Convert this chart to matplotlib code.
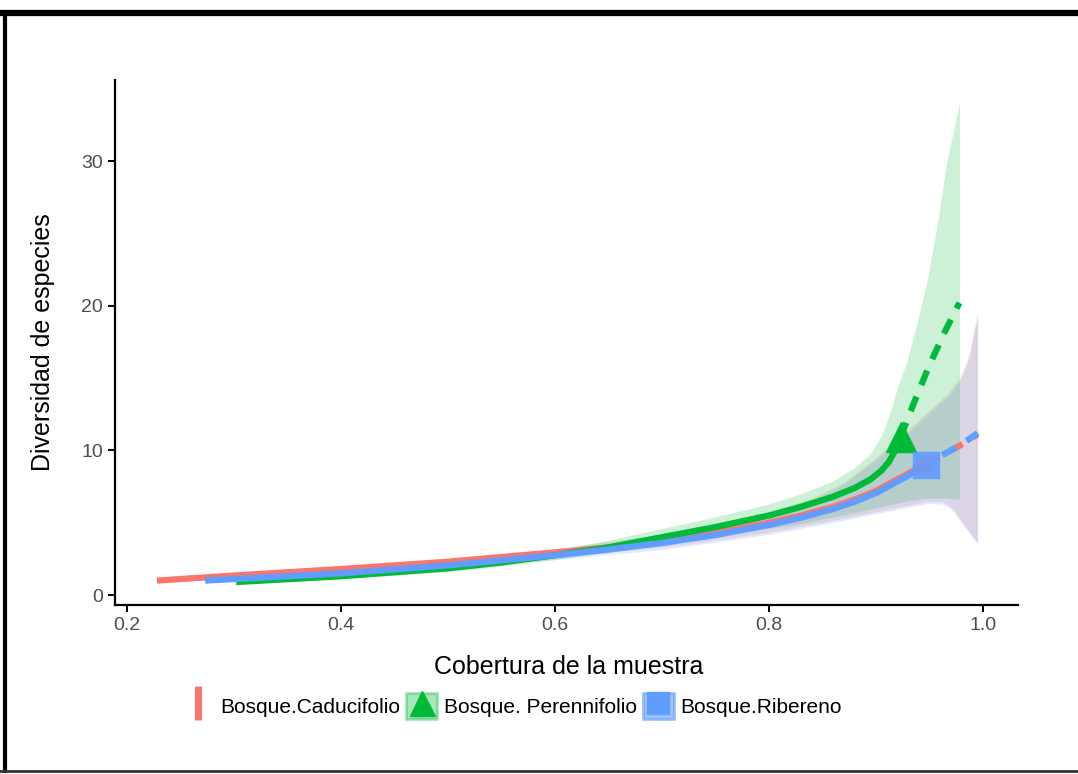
import numpy as np
import matplotlib.pyplot as plt
from matplotlib.lines import Line2D
from matplotlib.patches import Patch

plt.rcParams['font.family'] = ['Liberation Sans', 'DejaVu Sans']

# colours (ggplot default hues)
red = '#F8766D'
green = '#00BA38'
blue = '#619CFF'

# Bosque.Caducifolio
cad_x = [0.228, 0.3, 0.4, 0.5, 0.6, 0.65, 0.7, 0.75, 0.8, 0.83, 0.86, 0.88, 0.9, 0.915, 0.93, 0.945]
cad_y = [1.0, 1.35, 1.8, 2.3, 2.95, 3.3, 3.75, 4.3, 5.0, 5.5, 6.1, 6.6, 7.2, 7.8, 8.4, 9.0]
cad_ext_x = [0.945, 0.96, 0.98, 0.995]
cad_ext_y = [9.0, 9.6, 10.4, 11.1]
cad_rib_x = [0.228, 0.4, 0.6, 0.7, 0.75, 0.8, 0.84, 0.869, 0.895, 0.922, 0.95, 0.962,
             0.968, 0.972, 0.978, 0.98, 0.984, 0.988, 0.99, 0.995]
cad_lo = [0.95, 1.65, 2.6, 3.3, 3.8, 4.35, 4.9, 5.3, 5.7, 6.1, 6.5, 6.45,
          6.2, 5.95, 5.3, 5.1, 4.7, 4.3, 4.1, 3.6]
cad_hi = [1.05, 1.95, 3.2, 4.2, 4.8, 5.7, 6.7, 7.75, 9.2, 10.9, 12.8, 13.6,
          14.0, 14.4, 15.0, 15.3, 16.0, 16.9, 17.8, 19.5]

# Bosque.Perennifolio
per_x = [0.302, 0.4, 0.5, 0.55, 0.6, 0.65, 0.7, 0.75, 0.8, 0.83, 0.86, 0.88,
         0.895, 0.905, 0.912, 0.918, 0.923]
per_y = [0.9, 1.3, 1.85, 2.25, 2.75, 3.3, 4.0, 4.7, 5.5, 6.1, 6.8, 7.4,
         8.0, 8.6, 9.2, 10.0, 10.9]
per_ext_x = [0.923, 0.935, 0.95, 0.965, 0.978]
per_ext_y = [10.9, 13.2, 15.9, 18.3, 20.2]
per_rib_x = [0.302, 0.4, 0.5, 0.6, 0.65, 0.7, 0.75, 0.8, 0.83, 0.86, 0.88, 0.895,
             0.905, 0.913, 0.92, 0.929, 0.938, 0.948, 0.957, 0.966, 0.978]
per_lo = [0.85, 1.15, 1.6, 2.45, 2.95, 3.5, 4.0, 4.6, 4.95, 5.4, 5.7, 5.95,
          6.1, 6.25, 6.35, 6.5, 6.6, 6.7, 6.7, 6.7, 6.6]
per_hi = [0.95, 1.45, 2.1, 3.1, 3.8, 4.6, 5.4, 6.3, 7.0, 7.9, 8.8, 9.8,
          11.0, 12.6, 14.3, 16.2, 18.7, 21.8, 25.5, 29.9, 34.0]

# Bosque.Ribereno
rib_x = [0.273, 0.35, 0.4, 0.5, 0.6, 0.65, 0.7, 0.75, 0.8, 0.83, 0.86, 0.88, 0.9, 0.915, 0.93, 0.947]
rib_y = [1.0, 1.3, 1.5, 2.05, 2.75, 3.15, 3.6, 4.15, 4.85, 5.35, 5.95, 6.45, 7.05, 7.65, 8.25, 9.0]
rib_ext_x = [0.947, 0.96, 0.98, 0.995]
rib_ext_y = [9.0, 9.6, 10.4, 11.2]
rib_rib_x = [0.273, 0.4, 0.6, 0.7, 0.75, 0.8, 0.84, 0.869, 0.895, 0.922, 0.95, 0.962,
             0.968, 0.972, 0.978, 0.98, 0.984, 0.988, 0.99, 0.995]
rib_lo = [0.95, 1.4, 2.45, 3.15, 3.65, 4.2, 4.75, 5.15, 5.55, 5.95, 6.35, 6.3,
          6.05, 5.8, 5.2, 5.0, 4.6, 4.2, 4.0, 3.5]
rib_hi = [1.05, 1.65, 3.05, 4.05, 4.65, 5.55, 6.55, 7.6, 9.05, 10.7, 12.6, 13.4,
          13.8, 14.2, 14.8, 15.1, 15.8, 16.7, 17.6, 19.3]

labels = ['Bosque.Caducifolio', 'Bosque. Perennifolio', 'Bosque.Ribereno']
xticks = [0.2, 0.4, 0.6, 0.8, 1.0]
yticks = [0, 10, 20, 30]

fig = plt.figure(figsize=(10.78, 7.74), dpi=100)
ax = fig.add_axes([0.1067, 0.2183, 0.8376, 0.6783])

# ribbons
ax.fill_between(cad_rib_x, cad_lo, cad_hi, color=red, alpha=0.2, lw=0)
ax.fill_between(per_rib_x, per_lo, per_hi, color=green, alpha=0.2, lw=0)
ax.fill_between(rib_rib_x, rib_lo, rib_hi, color=blue, alpha=0.2, lw=0)

# lines
lw = 4.5
ax.plot(cad_x, cad_y, color=red, lw=lw, solid_capstyle='butt', solid_joinstyle='round')
ax.plot(per_x, per_y, color=green, lw=lw, solid_capstyle='butt', solid_joinstyle='round')
ax.plot(rib_x, rib_y, color=blue, lw=lw, solid_capstyle='butt', solid_joinstyle='round')
ax.plot(cad_ext_x, cad_ext_y, color=red, lw=lw, ls=(0, (2.5, 2)))
ax.plot(per_ext_x, per_ext_y, color=green, lw=lw, ls=(0, (2.5, 2)))
ax.plot(rib_ext_x, rib_ext_y, color=blue, lw=lw, ls=(1.5, (2.5, 2)))

# observed points
ax.plot(cad_x[-1], cad_y[-1], 'o', color=red, ms=12)
ax.plot(per_x[-1], per_y[-1], '^', color=green, ms=22)
ax.plot(rib_x[-1], rib_y[-1], 's', color=blue, ms=19, alpha=0.9)

ax.set_xlim(0.1888, 1.0327)
ax.set_ylim(-0.69, 35.6)
ax.set_xticks(xticks)
ax.set_xticklabels([f'{t:.1f}' for t in xticks])
ax.set_yticks(yticks)

for s in ['top', 'right']:
    ax.spines[s].set_visible(False)
for s in ['left', 'bottom']:
    ax.spines[s].set_linewidth(1.6)
ax.tick_params(labelsize=14, labelcolor='#4D4D4D', width=1.4, length=5)

ax.set_xlabel('Cobertura de la muestra', fontsize=18)
ax.set_ylabel('Diversidad de especies', fontsize=18)
ax.xaxis.set_label_coords(0.502, -0.095)
ax.yaxis.set_label_coords(-0.066, 0.5)

# legend
handles = [
    Line2D([], [], color=red, marker='|', ls='none', ms=24, mew=5),
    (Patch(facecolor=green, edgecolor=green, lw=2, alpha=0.35),
     Line2D([], [], color=green, marker='^', ls='none', ms=18)),
    (Patch(facecolor=blue, edgecolor=blue, lw=2, alpha=0.6),
     Line2D([], [], color=blue, marker='s', ls='none', ms=16)),
]
fig.legend(handles, labels, loc='center', bbox_to_anchor=(0.475, 0.088),
           ncol=3, frameon=False, fontsize=15, handlelength=1.5,
           handleheight=1.5, handletextpad=0.3, columnspacing=0.3)

# frame around the picture
fig.add_artist(Line2D([0, 1], [1 - 13 / 774, 1 - 13 / 774], color='black', lw=4.5))
fig.add_artist(Line2D([5 / 1078, 5 / 1078], [1 - 13 / 774, 1 - 771 / 774], color='black', lw=3))
fig.add_artist(Line2D([0, 1], [1 - 771 / 774, 1 - 771 / 774], color='#333333', lw=2))

fig.savefig('out.png', dpi=100)
